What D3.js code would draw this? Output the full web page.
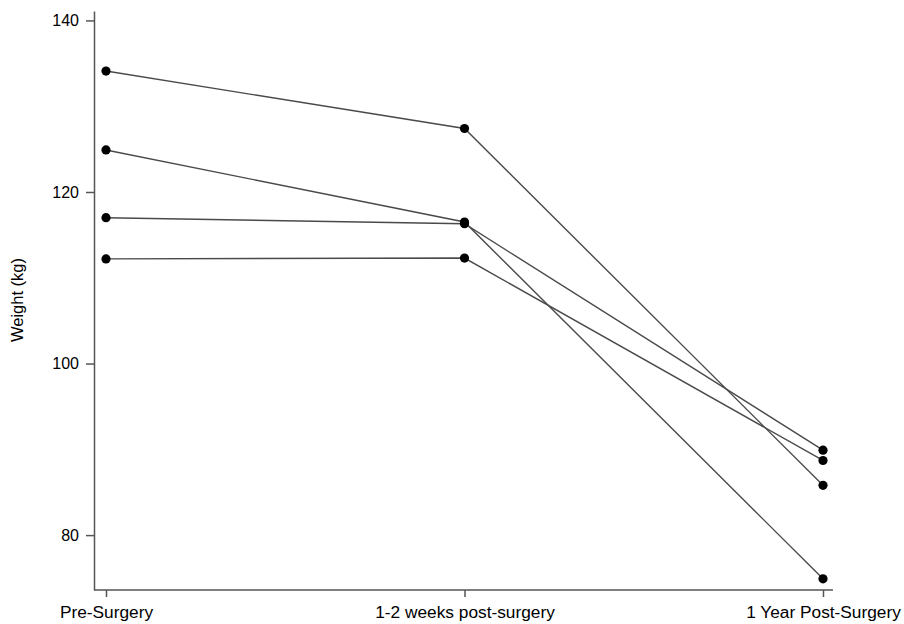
<!DOCTYPE html>
<html>
<head>
<meta charset="utf-8">
<script src="https://cdn.jsdelivr.net/npm/d3@7"></script>
<style>
  html, body { margin: 0; padding: 0; background: #fff; }
  svg { display: block; }
  text { font-family: "Liberation Sans", Arial, sans-serif; fill: #000; }
</style>
</head>
<body>
<svg id="chart" width="904" height="624"></svg>
<script>
// Time points on the x axis
const timepoints = ["Pre-Surgery", "1-2 weeks post-surgery", "1 Year Post-Surgery"];

// Weight (kg) of each patient at the three time points
const patientA = [134.1, 127.4, 85.8];
const patientB = [124.9, 116.5, 74.9];
const patientC = [117.0, 116.3, 89.9];
const patientD = [112.2, 112.3, 88.7];
const patients = [patientA, patientB, patientC, patientD];

const yTicks = [80, 100, 120, 140];
const yTitle = "Weight (kg)";

const svg = d3.select("#chart");

const x = d3.scalePoint().domain(timepoints).range([106, 823]);
const y = d3.scaleLinear().domain([73.6, 141.1]).range([590, 11]);

const axisColor = "#555";

// Y axis
const yAxis = svg.append("g")
  .attr("transform", "translate(94,0)")
  .call(d3.axisLeft(y).tickValues(yTicks).tickSize(8).tickPadding(7).tickSizeOuter(0));
yAxis.select(".domain").attr("stroke", axisColor).attr("stroke-width", 1.5);
yAxis.selectAll(".tick line").attr("stroke", axisColor).attr("stroke-width", 1.5);
yAxis.selectAll(".tick text")
  .style("font-size", "16px")
  .style("font-family", "'Liberation Sans', Arial, sans-serif")
  .attr("fill", "#000");

// X axis: baseline spans the full plot width, ticks at each time point
svg.append("line")
  .attr("x1", 94).attr("x2", 833)
  .attr("y1", 590).attr("y2", 590)
  .attr("stroke", axisColor).attr("stroke-width", 1.5);

const xAxis = svg.append("g")
  .attr("transform", "translate(0,590)")
  .call(d3.axisBottom(x).tickSize(7).tickPadding(9).tickSizeOuter(0));
xAxis.select(".domain").remove();
xAxis.selectAll(".tick line").attr("stroke", axisColor).attr("stroke-width", 1.5);
xAxis.selectAll(".tick text")
  .style("font-size", "17.3px")
  .style("font-family", "'Liberation Sans', Arial, sans-serif")
  .attr("fill", "#000");

// Y axis title
svg.append("text")
  .attr("transform", "translate(23,300) rotate(-90)")
  .attr("text-anchor", "middle")
  .style("font-size", "16.5px")
  .text(yTitle);

// Patient trajectories
const line = d3.line()
  .x((d, i) => x(timepoints[i]))
  .y(d => y(d));

svg.append("g")
  .selectAll("path")
  .data(patients)
  .join("path")
  .attr("d", line)
  .attr("fill", "none")
  .attr("stroke", "#4a4a4a")
  .attr("stroke-width", 1.4);

// Markers
svg.append("g")
  .selectAll("g")
  .data(patients)
  .join("g")
  .selectAll("circle")
  .data(d => d)
  .join("circle")
  .attr("cx", (d, i) => x(timepoints[i]))
  .attr("cy", d => y(d))
  .attr("r", 4.6)
  .attr("fill", "#000");
</script>
</body>
</html>
